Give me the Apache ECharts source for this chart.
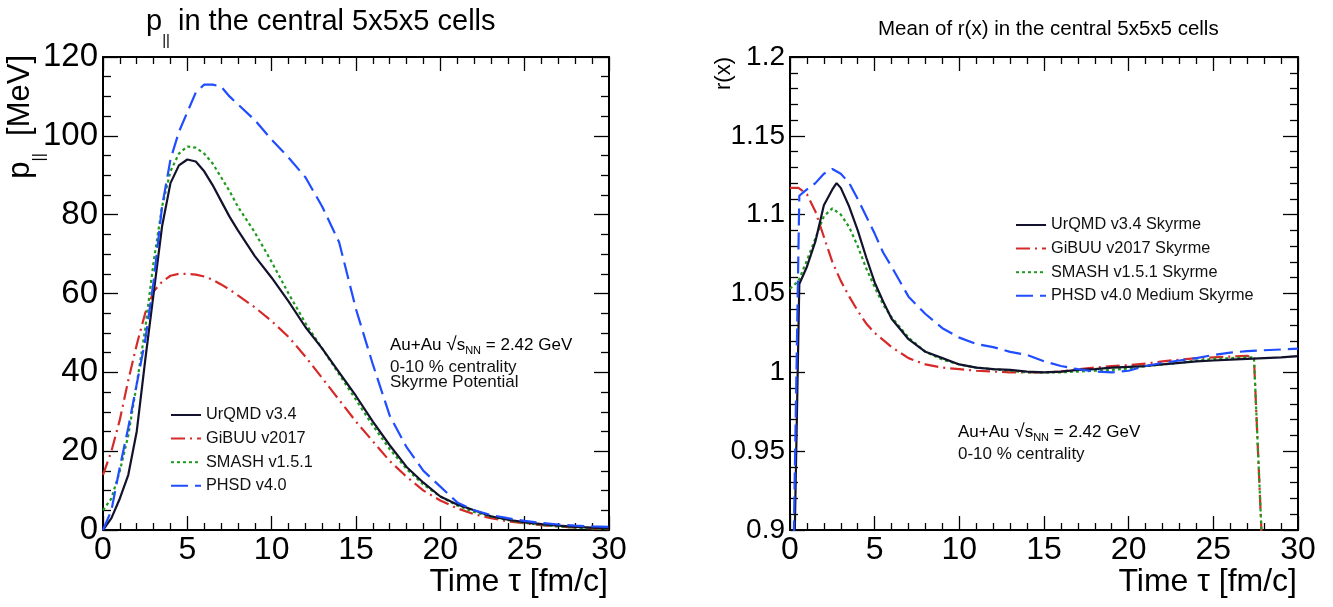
<!DOCTYPE html>
<html>
<head>
<meta charset="utf-8">
<script src="https://cdn.jsdelivr.net/npm/echarts@6/dist/echarts.min.js"></script>
<style>
html,body{margin:0;padding:0;background:#fff;}
#c{width:1333px;height:607px;}
</style>
</head>
<body>
<div id="c"></div>
<script>
// ---------------- DATA ----------------
// Left panel: p_parallel [MeV] vs time tau [fm/c]
const tLeft = [0,0.5,1,1.5,2,2.5,3,3.5,4,4.5,5,5.5,6,6.5,7,7.5,8,9,10,11,12,13,14,15,16,17,18,19,20,21,22,23,24,25,26,27,28,29,30];
const urqmdL = [0,3,8,14,25,43,60,77,88,92.5,94,93.5,91,87.5,83.5,79.5,76,69.5,64,58,51.5,46,40,34,27.5,21.5,16,12,8.5,6.5,5,3.5,2.6,2,1.5,1.1,0.8,0.6,0.4];
const gibuuL = [14,20,28,38,47,55,60.5,63,64.5,65,65,64.8,64.3,63.5,62.3,61,59.5,56.5,53,49,44,38.5,33,27.5,22.5,17.5,13.5,10,7.5,5.5,4,3,2.2,1.7,1.2,0.9,0.6,0.4,0.2];
const smashL = [5,8,15,24,37,51,68,82,91,95.5,97.3,97,95.5,93,89.5,86,82,75.5,68,60,52.5,46,39.5,33,26.5,20.5,15.5,11.5,8.5,6.2,4.6,3.4,2.5,1.8,1.3,0.9,0.6,0.4,0.3];
const phsdL = [0,5,16,26,37,48,63,82,94,101,106,111,113,113,112.5,110,108,104,99,94.5,89.5,82,73,56,42,29,21,15,11,7,5,3.8,3,2.3,1.8,1.4,1.1,0.9,0.8];

// Right panel: mean of r(x) vs time tau [fm/c]
const tUrqmdR = [0.25,0.55,1,1.5,2,2.5,2.75,3,3.5,4,4.5,5,5.5,6,7,8,9,10,11,12,13,14,15,16,17,18,19,20,21,22,23,24,25,26,27,28,29,30];
const urqmdR = [0.88,1.056,1.067,1.083,1.106,1.116,1.120,1.117,1.105,1.09,1.073,1.057,1.045,1.034,1.021,1.013,1.009,1.005,1.003,1.002,1.0015,1.0005,1.0,1.0005,1.0015,1.002,1.003,1.0035,1.004,1.005,1.006,1.007,1.0075,1.008,1.0085,1.009,1.0095,1.0103];
const tGibuuR = [0,0.5,1,1.5,2,2.5,3,3.5,4,4.5,5,6,7,8,9,10,11,12,13,14,15,16,17,18,19,20,21,22,23,24,25,26,27,27.4,28];
const gibuuR = [1.117,1.117,1.113,1.102,1.086,1.07,1.058,1.048,1.039,1.031,1.025,1.016,1.009,1.005,1.003,1.002,1.001,1.0005,1.0,1.0,1.0,1.0005,1.002,1.003,1.004,1.0045,1.0055,1.007,1.008,1.009,1.0095,1.010,1.0105,1.009,0.86];
const tSmashR = [0,0.5,1,1.5,2,2.5,3,3.5,4,4.5,5,5.5,6,7,8,9,10,11,12,13,14,15,16,17,18,19,20,21,22,23,24,25,26,27,27.4,28];
const smashR = [1.053,1.058,1.071,1.085,1.099,1.104,1.100,1.092,1.080,1.066,1.054,1.043,1.035,1.022,1.013,1.008,1.005,1.003,1.002,1.001,1.0,1.0,1.0,1.0005,1.001,1.0015,1.0025,1.004,1.005,1.006,1.0075,1.0085,1.009,1.0095,1.0095,0.86];
const tPhsdR = [0.2,0.55,1,1.5,2,2.5,3,3.5,4,4.5,5,5.5,6,7,8,9,10,11,12,13,14,15,16,17,18,19,20,21,22,23,24,25,26,27,28,29,30];
const phsdR = [0.88,1.112,1.116,1.12,1.126,1.129,1.126,1.12,1.11,1.099,1.088,1.076,1.067,1.048,1.037,1.028,1.022,1.018,1.016,1.013,1.011,1.007,1.004,1.002,1.0005,1.0,1.001,1.004,1.006,1.0075,1.009,1.011,1.0125,1.0135,1.014,1.0145,1.015];

// Axis tick values
const xTicks = [0,5,10,15,20,25,30];
const yTicksLeft = [0,20,40,60,80,100,120];
const yTicksRight = [0.9,0.95,1.0,1.05,1.1,1.15,1.2];

const namesLeft = ['UrQMD v3.4','GiBUU v2017','SMASH v1.5.1','PHSD v4.0'];
const namesRight = ['UrQMD v3.4 Skyrme','GiBUU v2017 Skyrme','SMASH v1.5.1 Skyrme','PHSD v4.0 Medium Skyrme'];

// ---------------- STYLE ----------------
const COL = ['#12122c','#d62a2a','#1f9a1f','#1f4dff'];
const DASH = ['solid',[14,5,2,5],[3,3],[17,7]];
const FONT = '"Liberation Sans", Arial, Helvetica, sans-serif';

function zip(t,v){ return t.map((x,i)=>[x,v[i]]); }
function fmt(v){ return String(+v.toFixed(2)); }

function xAx(grid, pos, labels){
  return {
    type:'value', gridIndex:grid, position:pos,
    min:xTicks[0], max:xTicks[xTicks.length-1], interval:xTicks[1]-xTicks[0],
    axisLine:{show:true, onZero:false, lineStyle:{color:'#000', width:2}},
    axisTick:{show:true, inside:true, length:14, lineStyle:{color:'#000', width:1.3}},
    minorTick:{show:true, splitNumber:5, length:7, lineStyle:{color:'#000', width:1.3}},
    axisLabel:{show:labels, color:'#000', fontSize:32, fontFamily:FONT, margin:4, formatter:fmt},
    splitLine:{show:false}
  };
}
function yAx(grid, pos, labels, ticks, minorSplit, fs){
  return {
    type:'value', gridIndex:grid, position:pos,
    min:ticks[0], max:ticks[ticks.length-1], interval:+(ticks[1]-ticks[0]).toFixed(4),
    axisLine:{show:true, onZero:false, lineStyle:{color:'#000', width:2}},
    axisTick:{show:true, inside:true, length:15, lineStyle:{color:'#000', width:1.3}},
    minorTick:{show:true, splitNumber:minorSplit, length:8, lineStyle:{color:'#000', width:1.3}},
    axisLabel:{show:labels, color:'#000', fontSize:fs, fontFamily:FONT, margin:5, formatter:fmt},
    splitLine:{show:false}
  };
}

function mkSeries(name, data, i, xi, yi){
  return {
    name:name, type:'line', xAxisIndex:xi, yAxisIndex:yi, data:data,
    symbol:'none', showSymbol:false, smooth:false, clip:true,
    lineStyle:{color:COL[i], width:2.2, type:DASH[i]},
    itemStyle:{color:COL[i]},
    z: 3 + (i===0?3:i)
  };
}

const leftData = [urqmdL, gibuuL, smashL, phsdL];
const rightData = [zip(tUrqmdR,urqmdR), zip(tGibuuR,gibuuR), zip(tSmashR,smashR), zip(tPhsdR,phsdR)];

const series = [];
namesLeft.forEach((n,i)=>series.push(mkSeries(n, zip(tLeft, leftData[i]), i, 0, 0)));
namesRight.forEach((n,i)=>series.push(mkSeries(n, rightData[i], i, 2, 2)));

const legendCommon = {
  orient:'vertical', itemWidth:30, itemHeight:14, itemGap:7.6, padding:0,
  textStyle:{color:'#111', fontSize:16.3, fontFamily:FONT},
  itemStyle:{opacity:0, borderWidth:0},
  selectedMode:false
};

const annRich = {
  n:{fontSize:17, fontFamily:FONT, color:'#111'},
  r:{fontSize:19, fontFamily:FONT, color:'#111'},
  s:{fontSize:17, fontFamily:FONT, color:'#111'},
  sub:{fontSize:11, fontFamily:FONT, color:'#111', verticalAlign:'top', padding:[11,0,0,0]}
};

const axisNameStyle = {fontSize:32, fontFamily:FONT, fill:'#000', align:'right', verticalAlign:'middle'};

const option = {
  animation:false,
  backgroundColor:'#fff',
  title:[
    {text:'{p|p}{s|||}{t| in the central 5x5x5 cells}', left:141, top:2,
     textStyle:{rich:{
       p:{fontSize:29, fontWeight:'normal', fontFamily:FONT, color:'#000', lineHeight:40, verticalAlign:'top'},
       s:{fontSize:15, fontWeight:'normal', fontFamily:FONT, color:'#000', lineHeight:40, verticalAlign:'top', padding:[26,0,0,0]},
       t:{fontSize:29, fontWeight:'normal', fontFamily:FONT, color:'#000', lineHeight:40, verticalAlign:'top'}
     }}},
    {text:'Mean of r(x) in the central 5x5x5 cells', left:873, top:14,
     textStyle:{fontSize:20.5, fontWeight:'normal', fontFamily:FONT, color:'#000'}}
  ],
  grid:[
    {left:103, right:724, top:57, bottom:77, containLabel:false, outerBoundsMode:'none'},
    {left:790, right:35, top:57, bottom:77, containLabel:false, outerBoundsMode:'none'}
  ],
  xAxis:[
    xAx(0,'bottom',true),
    xAx(0,'top',false),
    xAx(1,'bottom',true),
    xAx(1,'top',false)
  ],
  yAxis:[
    yAx(0,'left',true,yTicksLeft,4,33),
    yAx(0,'right',false,yTicksLeft,4,33),
    yAx(1,'left',true,yTicksRight,5,28),
    yAx(1,'right',false,yTicksRight,5,28)
  ],
  legend:[
    Object.assign({}, legendCommon, {data:namesLeft, left:170, top:407}),
    Object.assign({}, legendCommon, {data:namesRight, left:1015, top:217})
  ],
  graphic:[
    {type:'text', x:25, y:55, rotation:Math.PI/2,
     style:{text:'{p|p}{s|||}{t|  [MeV]}', align:'right', verticalAlign:'middle',
       rich:{
         p:{fontSize:31, fontFamily:FONT, fill:'#000', lineHeight:40, verticalAlign:'top'},
         s:{fontSize:16, fontFamily:FONT, fill:'#000', lineHeight:40, verticalAlign:'top', padding:[27,0,0,0]},
         t:{fontSize:31, fontFamily:FONT, fill:'#000', lineHeight:40, verticalAlign:'top'}
       }}},
    {type:'text', x:724, y:57, rotation:Math.PI/2,
     style:{text:'r(x)', align:'right', verticalAlign:'middle', fontSize:22, fontFamily:FONT, fill:'#000'}},
    {type:'text', x:608, y:582, style:Object.assign({text:'Time \u03C4 [fm/c]'}, axisNameStyle)},
    {type:'text', x:1297, y:582, style:Object.assign({text:'Time \u03C4 [fm/c]'}, axisNameStyle)},
    {type:'text', x:390, y:334,
     style:{text:'{n|Au+Au }{r|\u221A}{s|s}{sub|NN}{n| = 2.42 GeV}', rich:annRich}},
    {type:'text', x:390, y:359,
     style:{text:'0-10 % centrality', fontSize:17, fontFamily:FONT, fill:'#111'}},
    {type:'text', x:390, y:374,
     style:{text:'Skyrme Potential', fontSize:17, fontFamily:FONT, fill:'#111'}},
    {type:'text', x:958, y:421,
     style:{text:'{n|Au+Au }{r|\u221A}{s|s}{sub|NN}{n| = 2.42 GeV}', rich:annRich}},
    {type:'text', x:958, y:446,
     style:{text:'0-10 % centrality', fontSize:17, fontFamily:FONT, fill:'#111'}}
  ],
  series:series
};

const chart = echarts.init(document.getElementById('c'), null, {renderer:'canvas'});
chart.setOption(option);
</script>
</body>
</html>
